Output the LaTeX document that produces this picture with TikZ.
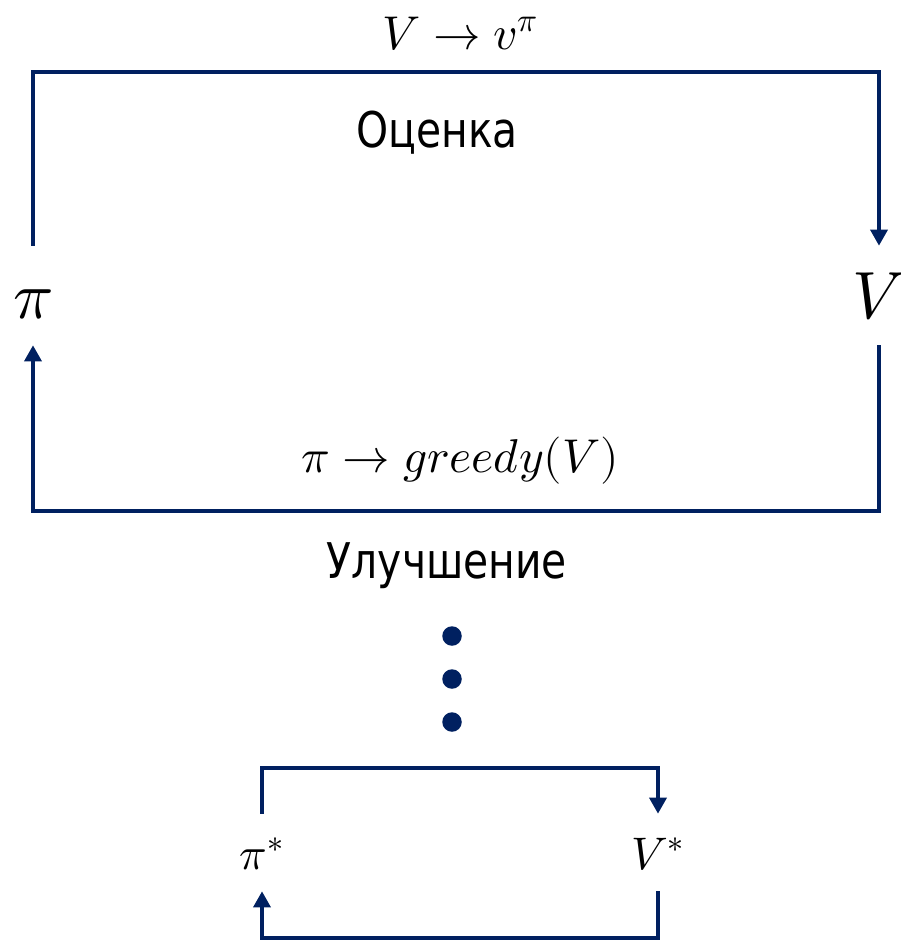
\documentclass[tikz,border=0pt]{standalone}
\usepackage{fontspec}
\usepackage{unicode-math}
\setmathfont{Latin Modern Math}
\newfontfamily\rufont[FakeStretch=0.83]{DejaVu Sans}
\usepackage{xcolor}
\definecolor{loopblue}{HTML}{002060}
\usepackage{tikz}
\usetikzlibrary{arrows.meta,positioning}
\tikzset{
  iternode/.style={inner sep=0pt,text height=1.44cm,text depth=0.54cm,font=\fontsize{38}{44}\selectfont},
  iterstar/.style={inner sep=0pt,text height=1.1cm,text depth=0.44cm,font=\fontsize{26}{30}\selectfont},
  iterlabel/.style={anchor=base,inner sep=0pt,font=\fontsize{27}{32}\selectfont},
  itertext/.style={anchor=base,inner sep=0pt,font=\rufont\fontsize{28}{32}\selectfont},
  iterarrow/.style={-{Triangle[length=0.32cm,width=0.34cm]},line width=0.07cm,loopblue},
  iterdot/.style={circle,fill=loopblue,inner sep=0pt,minimum size=0.39cm}
}
\begin{document}
\begin{tikzpicture}[x=0.02cm,y=-0.02cm]
\useasboundingbox (0,0) rectangle (900,940);
% main loop
\node[iternode] (pi) at (33,295.5) {$\pi$};
\node[iternode] (V) at (879,295.5) {$V$};
\node[iterlabel] (evallabel) at (460,49) {$V \to v^{\pi}$};
\node[itertext] (eval) at (437,147) {Оценка};
\node[iterlabel] (greedylabel) at (460,472) {$\pi \to greedy(V)$};
\node[itertext] (impr) at (447,578) {Улучшение};
\coordinate (evaltop) at (456,72);
\coordinate (imprbot) at (456,511);
\draw[iterarrow] (pi.north) |- (evaltop) -| (V.north);
\draw[iterarrow] (V.south) |- (imprbot) -| (pi.south);
% dots
\foreach \y [count=\i] in {636,679,722}
  \node[iterdot] (dot\i) at (452,\y) {};
% optimal loop
\node[iterstar] (pistar) at (262,852.5) {$\pi^{*}$};
\node[iterstar] (Vstar) at (658,852.5) {$V^{*}$};
\coordinate (startop) at (460,768);
\coordinate (starbot) at (460,938);
\draw[iterarrow] (pistar.north) |- (startop) -| (Vstar.north);
\draw[iterarrow] (Vstar.south) |- (starbot) -| (pistar.south);
\end{tikzpicture}
\end{document}
